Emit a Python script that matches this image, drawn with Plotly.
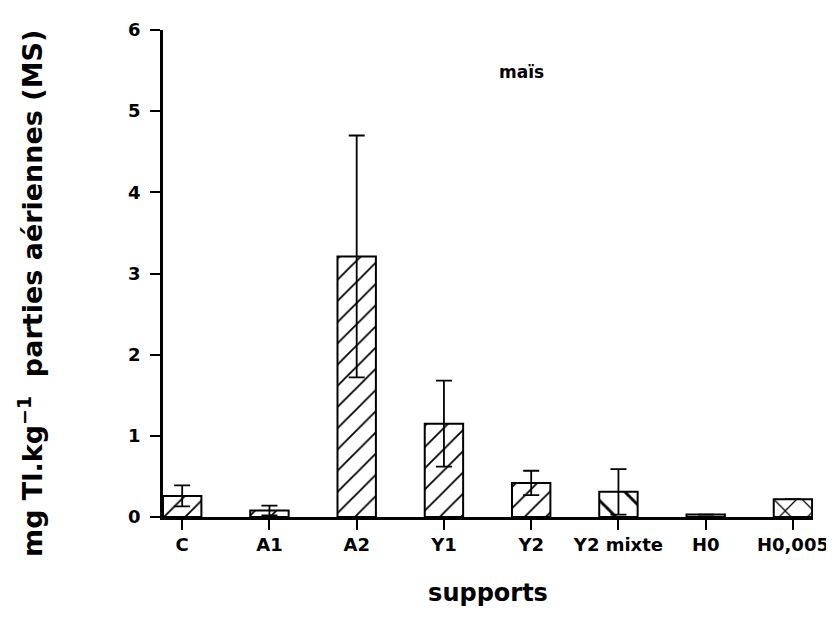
import plotly.graph_objects as go

categories = ["C", "A1", "A2", "Y1", "Y2", "Y2 mixte", "H0", "H0,005"]
values = [0.26, 0.08, 3.21, 1.15, 0.42, 0.31, 0.03, 0.22]
errors = [0.13, 0.06, 1.49, 0.53, 0.15, 0.28, 0, 0]
patterns = ["/", "/", "/", "/", "/", "\\", "", "x"]
pattern_sizes = [15, 15, 15, 15, 15, 24, 15, 20]

y_ticks = [0, 1, 2, 3, 4, 5, 6]

fig = go.Figure()
fig.add_trace(go.Bar(
    x=list(range(len(categories))),
    y=values,
    width=0.44,
    marker=dict(
        color="white",
        line=dict(color="black", width=2),
        pattern=dict(shape=patterns, fgcolor="black", bgcolor="white",
                     fgopacity=1, fillmode="overlay", size=pattern_sizes,
                     solidity=0.12),
    ),
    error_y=dict(type="data", array=errors, visible=True,
                 color="black", thickness=1.8, width=8),
    showlegend=False,
))

font_family = "DejaVu Sans, sans-serif"

fig.update_layout(
    width=834, height=619,
    margin=dict(l=155, r=29, t=22, b=110),
    plot_bgcolor="white", paper_bgcolor="white",
    font=dict(family=font_family, color="black"),
    xaxis=dict(
        range=[-0.22, 7.23],
        tickmode="array",
        tickvals=list(range(len(categories))),
        ticktext=categories,
        ticks="outside", ticklen=10, tickwidth=1.5, tickcolor="black",
        showline=True, linecolor="black", linewidth=2.5,
        showgrid=False, zeroline=False,
        tickfont=dict(size=18, family=font_family, weight="bold"),
        title=dict(text="supports", font=dict(size=24, family=font_family, weight="bold"),
                   standoff=30),
    ),
    yaxis=dict(
        range=[0, 6],
        tickmode="array",
        tickvals=y_ticks,
        ticktext=[str(t) for t in y_ticks],
        ticks="outside", ticklen=10, tickwidth=1.5, tickcolor="black",
        ticklabelstandoff=6,
        showline=True, linecolor="black", linewidth=2.5,
        showgrid=False, zeroline=False,
        tickfont=dict(size=18, family=font_family, weight="bold"),
    ),
    annotations=[
        dict(
            text="maïs", x=(513 - 155) / 650, y=(509 - 64) / 487,
            xref="paper", yref="paper", xanchor="center", yanchor="middle",
            showarrow=False, font=dict(size=17, family=font_family, weight="bold"),
        ),
        dict(
            text="mg Tl.kg<sup>−1</sup>  parties aériennes (MS)",
            x=(22 - 155) / 650, y=(509 - 286) / 487,
            xref="paper", yref="paper", xanchor="center", yanchor="middle",
            textangle=-90, showarrow=False,
            font=dict(size=27, family=font_family, weight="bold"),
        ),
    ],
)

fig.write_html("out.html")
